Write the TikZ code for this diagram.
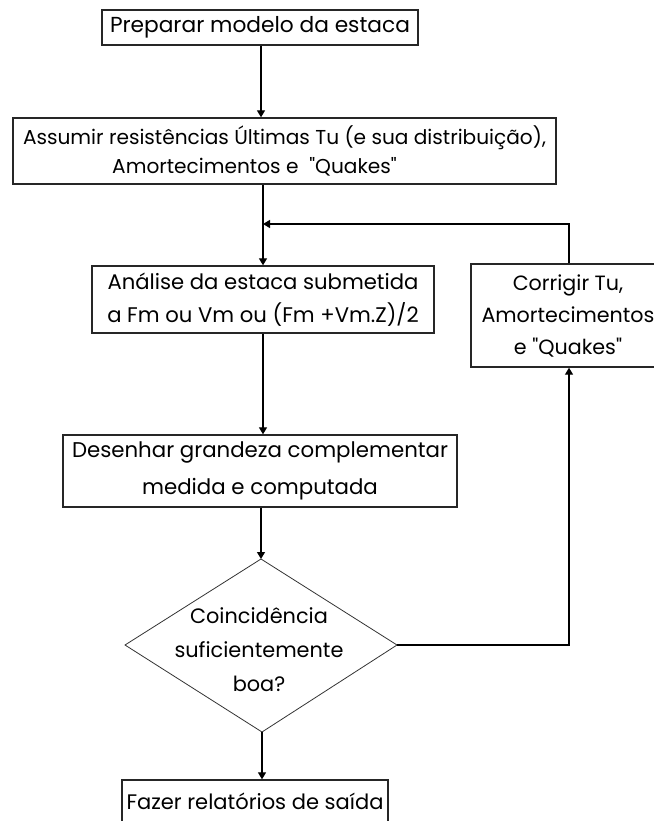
\documentclass[tikz,border=0pt]{standalone}
\usepackage{fontspec}
\setmainfont{Poppins}[Ligatures=TeXOff]
\usetikzlibrary{arrows.meta}
\newlength\fitlen
\newcommand\fitfont[3]{\settowidth\fitlen{\fontsize{10}{12}\selectfont #2}\pgfmathsetmacro\fitsize{10*#1/\fitlen}\fontsize{\fitsize}{#3}\selectfont}
\begin{document}
\begin{tikzpicture}[x=1pt,y=-1pt,
  box/.style={draw=black!85,line width=1.4pt,inner sep=0pt,align=center},
  arr/.style={line width=1.3pt,-{Triangle[length=7pt,width=8pt]}},
  dia/.style={draw=black!80,line width=0.8pt}]
\useasboundingbox (0,0) rectangle (653,821);
\node[box,minimum width=316,minimum height=35,
  font={\fitfont{300}{Preparar modelo da estaca}{20}}] (b1) at (260,27.5) {Preparar modelo da estaca};
\node[box,minimum width=543,minimum height=66,
  font={\fitfont{523}{Assumir resistências Últimas Tu (e sua distribuição),}{29}}] (b2) at (284.5,151)
  {Assumir resistências Últimas Tu (e sua distribuição),\\Amortecimentos e \ "Quakes"\hspace*{60pt}};
\node[box,minimum width=342,minimum height=67,
  font={\fitfont{311}{Análise da estaca submetida}{33}}] (b3) at (263,299.5)
  {Análise da estaca submetida\\a Fm ou Vm ou (Fm +Vm.Z)/2};
\node[box,minimum width=194,minimum height=103,
  font={\fitfont{173}{Amortecimentos}{32}}] (b4) at (568,315.5)
  {Corrigir Tu,\\Amortecimentos\\e "Quakes"};
\node[box,minimum width=394,minimum height=72,
  font={\fitfont{376}{Desenhar grandeza complementar}{37}}] (b5) at (260,471)
  {Desenhar grandeza complementar\\medida e computada};
\path[dia] (261,559) coordinate (dt) -- (397,645) coordinate (dr)
  -- (262,732) coordinate (db) -- (125,645) coordinate (dl) -- cycle;
\node[align=center,inner sep=0pt,
  font={\fitfont{169}{suficientemente}{34}}] (dtext) at (259,650) {Coincidência\\suficientemente\\boa?};
\node[box,minimum width=266,minimum height=43] (b6) at (255,801.5)
  {\fitfont{257}{Fazer relatórios de saída}{20}Fazer relatórios de saída};
\coordinate (c1) at (261,0);
\coordinate (c2) at (263,0);
\coordinate (cr) at (569,0);
\coordinate (fb) at (263,224);
\draw[arr] (b1.south -| c1) -- (b2.north -| c1);
\draw[arr] (b2.south -| c2) -- (b3.north -| c2);
\draw[arr] (b3.south -| c2) -- (b5.north -| c2);
\draw[arr] (b5.south -| dt) -- (dt);
\draw[arr] (db) -- (b6.north -| db);
\draw[arr] (dr) -| (b4.south -| cr);
\draw[arr] (b4.north -| cr) |- (fb);
\end{tikzpicture}
\end{document}
